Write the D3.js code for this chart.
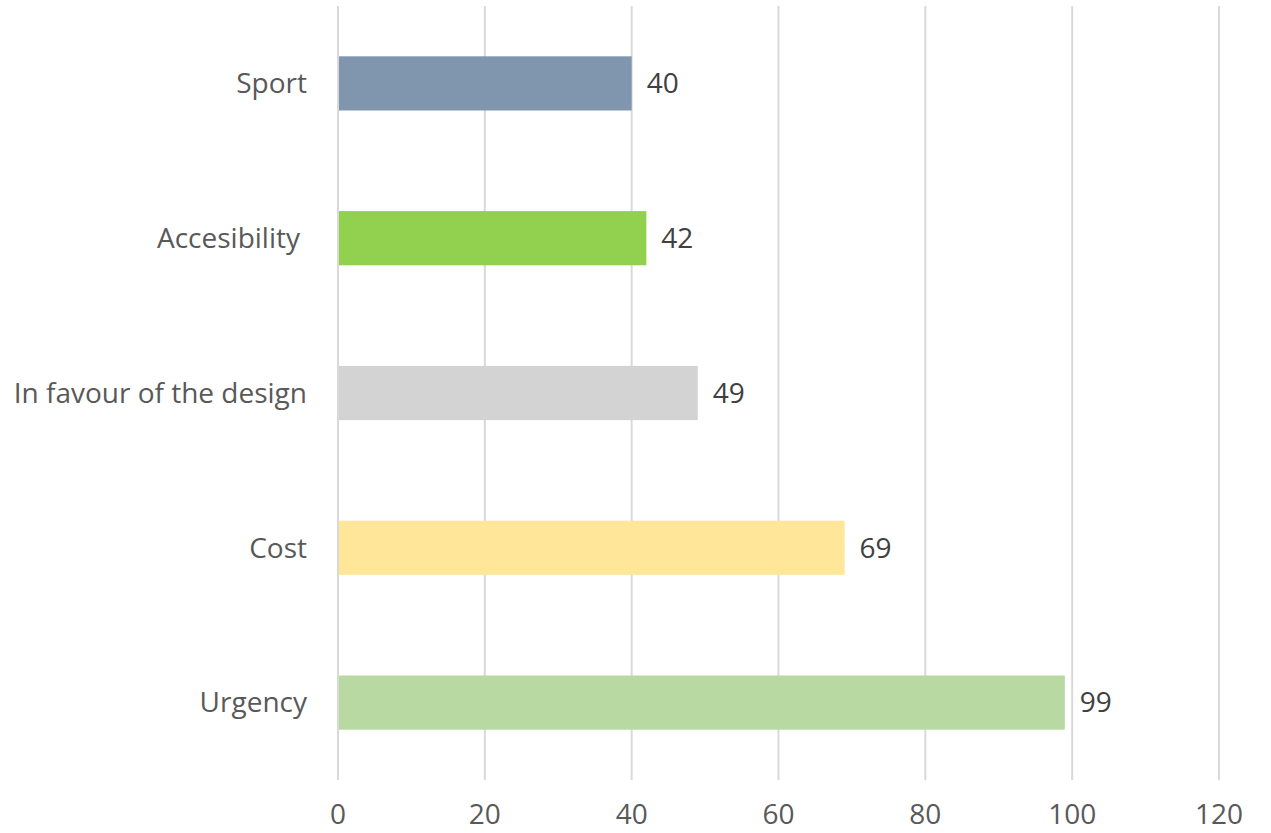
<!DOCTYPE html>
<html>
<head>
<meta charset="utf-8">
<script src="https://cdn.jsdelivr.net/npm/d3@7"></script>
<style>
  body { margin: 0; background: #fff; }
  svg { display: block; font-family: "Open Sans", sans-serif; }
</style>
</head>
<body>
<svg></svg>
<script>
const categories = ['Sport', 'Accesibility ', 'In favour of the design', 'Cost', 'Urgency'];
const values = [40, 42, 49, 69, 99];
const colors = ['#8096ae', '#92d050', '#d3d3d3', '#ffe699', '#b8d9a2'];
const ticks = [0, 20, 40, 60, 80, 100, 120];

const width = 1271;
const height = 833;

const svg = d3.select('svg')
  .attr('width', width)
  .attr('height', height);

const x = d3.scaleLinear().domain([0, 120]).range([338, 1219]);
const y = d3.scaleBand()
  .domain(categories)
  .range([6, 780])
  .paddingInner(0.65)
  .paddingOuter(0.325);

// gridlines
svg.append('g')
  .selectAll('line')
  .data(ticks)
  .enter()
  .append('line')
  .attr('x1', d => x(d))
  .attr('x2', d => x(d))
  .attr('y1', 6)
  .attr('y2', 780)
  .attr('stroke', '#d9d9d9')
  .attr('stroke-width', 2);

// x tick labels
svg.append('g')
  .selectAll('text')
  .data(ticks)
  .enter()
  .append('text')
  .attr('x', d => x(d))
  .attr('y', 824)
  .attr('text-anchor', 'middle')
  .attr('fill', '#595959')
  .attr('font-size', 28)
  .text(d => d);

// bars
svg.append('g')
  .selectAll('rect')
  .data(categories)
  .enter()
  .append('rect')
  .attr('x', x(0) + 1)
  .attr('y', d => y(d))
  .attr('width', (d, i) => x(values[i]) - x(0) - 1)
  .attr('height', y.bandwidth())
  .attr('fill', (d, i) => colors[i]);

// category labels
svg.append('g')
  .selectAll('text')
  .data(categories)
  .enter()
  .append('text')
  .attr('x', (d, i) => i === 1 ? 300 : 307)
  .attr('y', d => y(d) + y.bandwidth() / 2)
  .attr('dy', '0.35em')
  .attr('text-anchor', 'end')
  .attr('fill', '#595959')
  .attr('font-size', 28)
  .text(d => d.trim());

// value labels
svg.append('g')
  .selectAll('text')
  .data(categories)
  .enter()
  .append('text')
  .attr('x', (d, i) => x(values[i]) + 15)
  .attr('y', d => y(d) + y.bandwidth() / 2)
  .attr('dy', '0.35em')
  .attr('fill', '#404040')
  .attr('font-size', 28)
  .text((d, i) => values[i]);
</script>
</body>
</html>
